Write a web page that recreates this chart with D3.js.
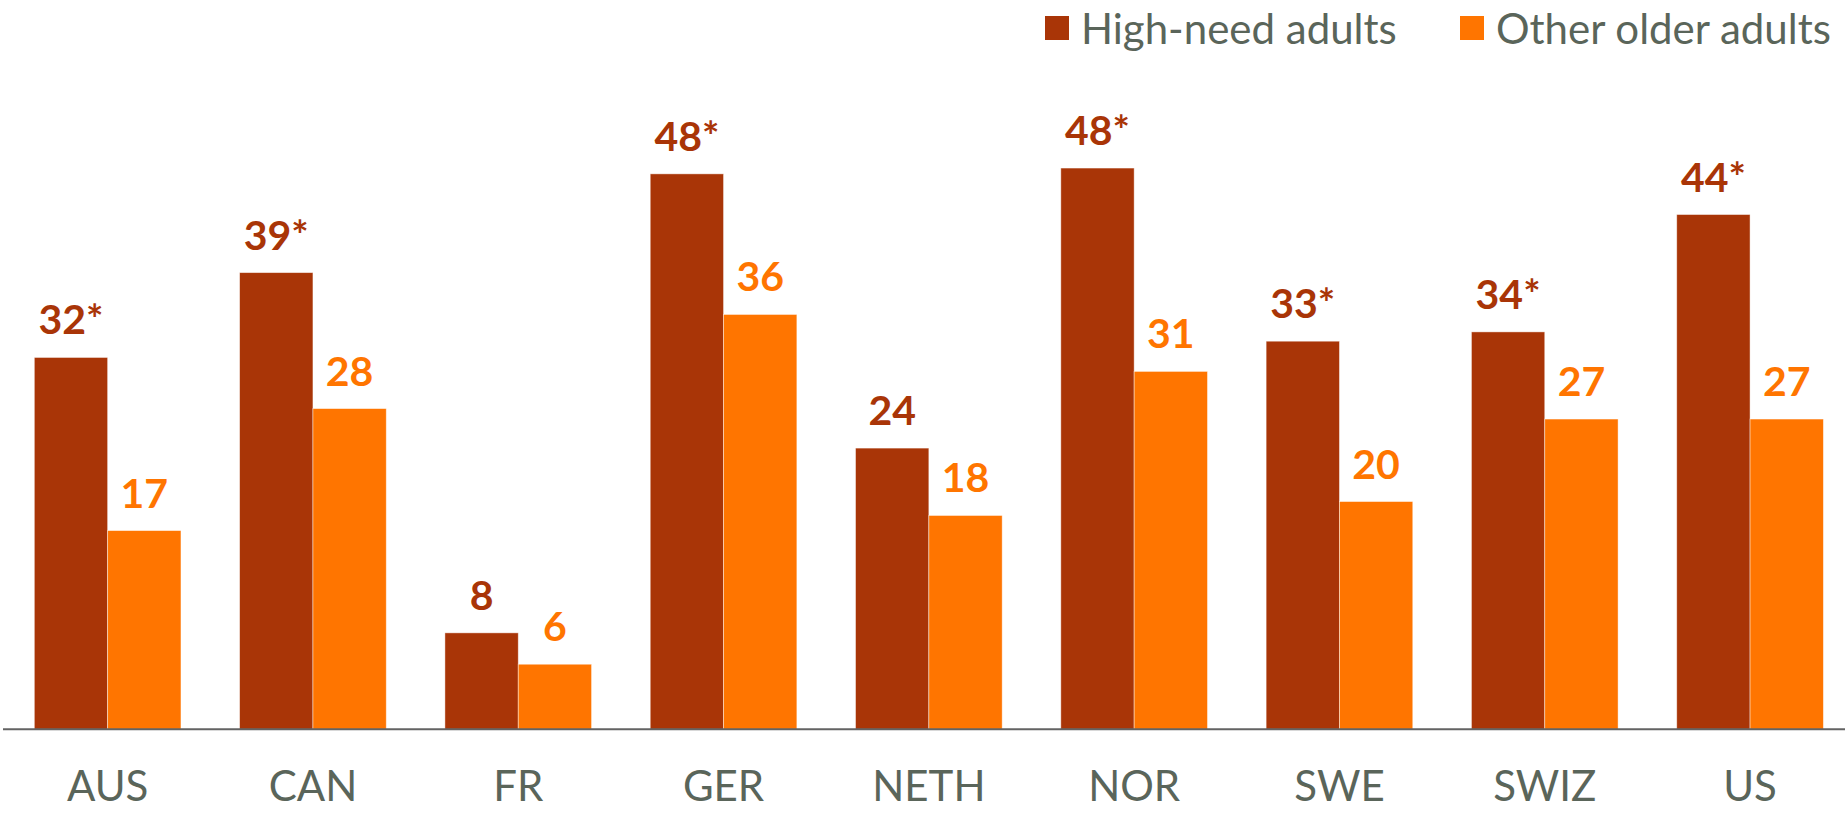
<!DOCTYPE html>
<html>
<head>
<meta charset="utf-8">
<script src="https://cdn.jsdelivr.net/npm/d3@7"></script>
<style>
  html, body { margin: 0; padding: 0; background: #ffffff; }
  svg { display: block; }
  text { font-family: Lato, "Open Sans", sans-serif; }
</style>
</head>
<body>
<div id="chart"></div>
<script>
// ---- data ----
const categories = ["AUS", "CAN", "FR", "GER", "NETH", "NOR", "SWE", "SWIZ", "US"];
const seriesNames = ["High-need adults", "Other older adults"];
const highNeed = [32.0, 39.3, 8.3, 47.8, 24.2, 48.3, 33.4, 34.2, 44.3];
const otherOlder = [17.1, 27.6, 5.6, 35.7, 18.4, 30.8, 19.6, 26.7, 26.7];
const highNeedLabels = ["32*", "39*", "8", "48*", "24", "48*", "33*", "34*", "44*"];
const otherOlderLabels = ["17", "28", "6", "36", "18", "31", "20", "27", "27"];
const colors = ["#A93507", "#FF7500"];

// ---- layout ----
const W = 1845, H = 815;
const baseline = 729.3;
const svg = d3.select("#chart").append("svg").attr("width", W).attr("height", H);

const x = d3.scaleBand().domain(categories).range([5, 1852.7]).paddingInner(0.2857).paddingOuter(0.1428);
const xs = d3.scaleBand().domain(seriesNames).range([0, x.bandwidth()]);
const y = d3.scaleLinear().domain([0, 60]).range([baseline, baseline - 11.62 * 60]);

const series = [
  { name: seriesNames[0], values: highNeed, labels: highNeedLabels, color: colors[0] },
  { name: seriesNames[1], values: otherOlder, labels: otherOlderLabels, color: colors[1] }
];

const groups = svg.append("g").selectAll("g")
  .data(series).join("g");

groups.selectAll("rect")
  .data(s => s.values.map((v, i) => ({ s, v, c: categories[i], l: s.labels[i] })))
  .join("rect")
  .attr("x", d => x(d.c) + xs(d.s.name))
  .attr("y", d => y(d.v))
  .attr("width", xs.bandwidth())
  .attr("height", d => baseline - y(d.v))
  .attr("fill", d => d.s.color)
  .attr("stroke", "#ffffff")
  .attr("stroke-opacity", 0.55)
  .attr("stroke-width", 0.8);

groups.selectAll("text")
  .data(s => s.values.map((v, i) => ({ s, v, c: categories[i], l: s.labels[i] })))
  .join("text")
  .attr("x", d => x(d.c) + xs(d.s.name) + xs.bandwidth() / 2)
  .attr("y", d => y(d.v) - 23)
  .attr("text-anchor", "middle")
  .attr("fill", d => d.s.color)
  .attr("font-size", 41)
  .attr("font-weight", 700)
  .text(d => d.l);

// ---- x axis ----
const xAxis = d3.axisBottom(x).tickSize(0).tickPadding(0).tickSizeOuter(0);
const axisG = svg.append("g").attr("transform", `translate(0,${baseline})`).call(xAxis);
axisG.select(".domain").remove();
axisG.selectAll("text")
  .attr("y", 71.4)
  .attr("dy", 0)
  .attr("font-size", 42)
  .attr("font-family", "Lato, sans-serif")
  .attr("fill", "#5A655A");
svg.append("line")
  .attr("x1", 3).attr("x2", W)
  .attr("y1", baseline).attr("y2", baseline)
  .attr("stroke", "#636363").attr("stroke-width", 2);

// ---- legend ----
const legendItems = [
  { name: seriesNames[0], color: colors[0], x: 1045 },
  { name: seriesNames[1], color: colors[1], x: 1460 }
];
const lg = svg.append("g").selectAll("g").data(legendItems).join("g")
  .attr("transform", d => `translate(${d.x},0)`);
lg.append("rect").attr("x", 0).attr("y", 16).attr("width", 24).attr("height", 24)
  .attr("fill", d => d.color);
lg.append("text").attr("x", 36).attr("y", 44.3)
  .attr("font-size", 42).attr("fill", "#5A655A")
  .text(d => d.name);
</script>
</body>
</html>
